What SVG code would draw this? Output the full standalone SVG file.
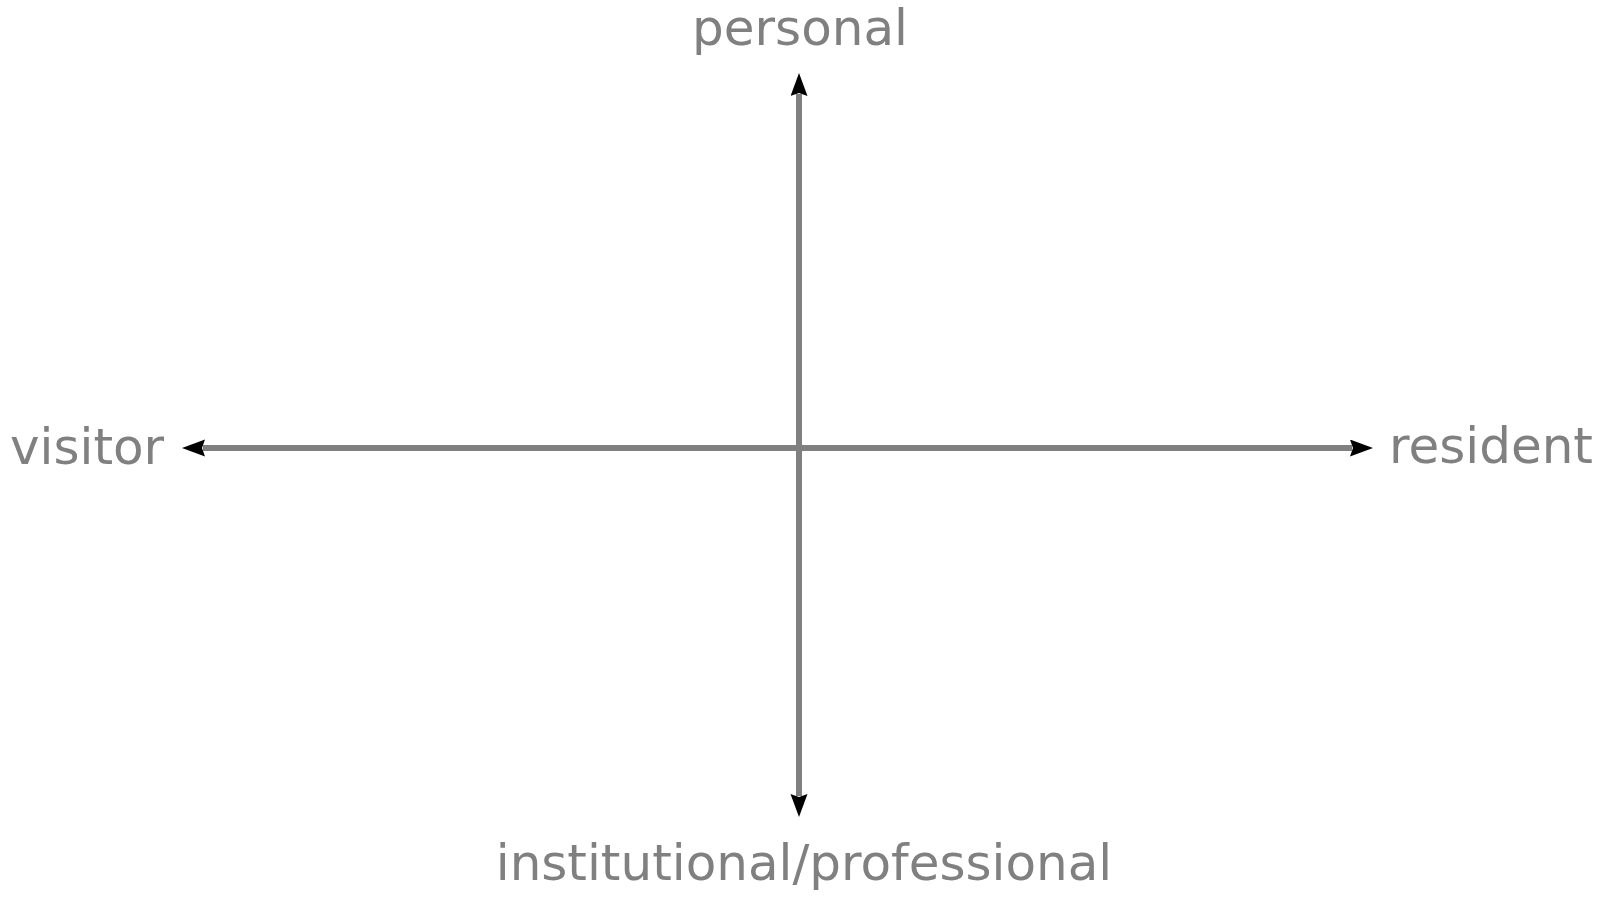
<svg xmlns="http://www.w3.org/2000/svg" width="1602" height="897" viewBox="0 0 1602 897">
<style>
.lbl{font-family:"DejaVu Sans","Verdana",sans-serif;font-size:50px;fill:#808080}
.axis{stroke:#808080;stroke-width:6;fill:none}
</style>
<defs>
<marker id="ah" markerUnits="userSpaceOnUse" markerWidth="25" markerHeight="18" refX="2" refY="8.5" orient="auto">
<path d="M0,0 L23,8.5 L0,17 L3,8.5 Z" fill="#000"/>
</marker>
</defs>
<rect width="1602" height="897" fill="#fff"/>
<g id="connectors">
<line class="axis" x1="799" y1="448" x2="799" y2="94" marker-end="url(#ah)"/>
<line class="axis" x1="799" y1="448" x2="799" y2="796" marker-end="url(#ah)"/>
<line class="axis" x1="799" y1="448" x2="203" y2="448" marker-end="url(#ah)"/>
<line class="axis" x1="799" y1="448" x2="1352" y2="448" marker-end="url(#ah)"/>
</g>
<g id="personal"><text class="lbl" x="800" y="45" text-anchor="middle">personal</text></g>
<g id="institutional"><text class="lbl" x="804" y="880" text-anchor="middle">institutional/professional</text></g>
<g id="visitor"><text class="lbl" x="10" y="464">visitor</text></g>
<g id="resident"><text class="lbl" x="1389" y="463">resident</text></g>
</svg>
